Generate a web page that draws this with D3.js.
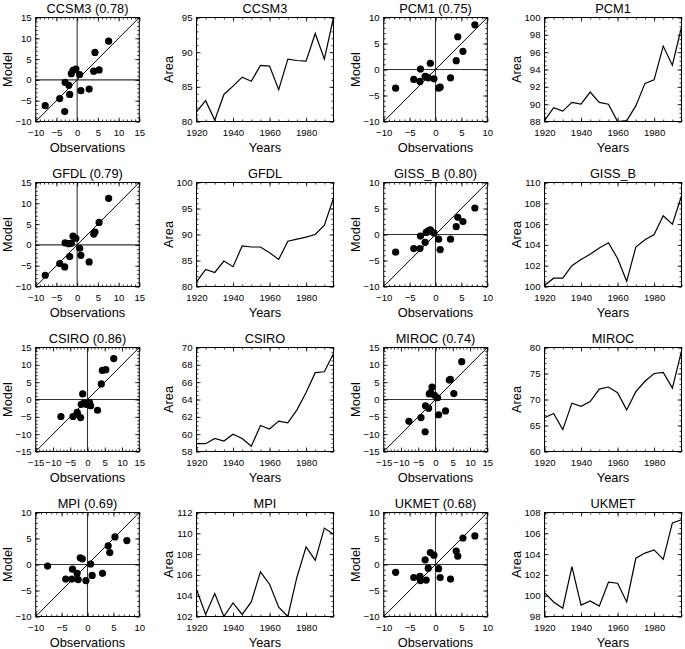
<!DOCTYPE html>
<html><head><meta charset="utf-8">
<script src="https://cdn.jsdelivr.net/npm/d3@7"></script>
<style>
body{margin:0;background:#fff;}
text{font-family:"Liberation Sans",Arial,Helvetica,sans-serif;fill:#000;}
</style>
</head><body>
<svg id="chart" width="685" height="649"></svg>
<script>
// ---------- DATA ----------
const modelNames   = ["CCSM3","PCM1","GFDL","GISS_B","CSIRO","MIROC","MPI","UKMET"];
const correlations = ["0.78","0.75","0.79","0.80","0.86","0.74","0.69","0.68"];

// observed anomalies (x of every scatter panel)
const observations = [-7.7,-4.2,-3.0,-2.9,-2.0,-1.8,-1.4,-1.0,-0.3,0.6,0.9,2.9,4.0,4.3,5.3,7.6];

// modelled anomalies (y of each scatter panel)
const ccsm3Model = [-6.2,-4.5,-7.6,-0.6,-1.3,-3.5,1.5,2.3,2.6,1.3,-2.6,-2.2,2.1,6.6,2.4,9.3];
const pcm1Model  = [-3.6,-1.9,-2.3,0.1,-1.3,-1.4,-1.6,1.2,-1.8,-3.6,-3.4,-1.6,1.7,6.3,3.5,8.6];
const gfdlModel  = [-7.3,-4.5,-5.3,0.5,0.3,-2.8,0.4,2.1,1.6,-0.8,-2.5,-4.1,2.6,3.1,5.4,11.2];
const gissModel  = [-3.4,-2.7,-2.7,-0.3,-1.5,0.4,0.7,0.9,0.3,-0.9,-2.9,-0.9,1.5,3.3,2.5,5.1];
const csiroModel = [-4.9,-4.9,-3.7,-4.3,-5.2,-1.4,1.6,-1.0,-1.4,-0.9,-1.8,-3.1,4.5,8.4,8.6,11.8];
const mirocModel = [-6.3,-5.2,-9.3,-1.8,-2.5,1.6,2.0,3.6,1.2,0.5,-4.4,-3.3,5.6,5.8,1.7,10.9];
const mpiModel   = [-0.3,-2.8,-2.8,-0.9,-1.7,-2.9,1.3,1.1,-3.1,0.1,-2.1,-1.7,3.6,2.3,5.3,4.6];
const ukmetModel = [-1.5,-2.5,-2.3,-3.1,0.9,-3.0,-0.7,2.3,1.8,-0.8,-2.5,-2.8,2.6,1.6,5.1,5.5];

// time series of area
const years = [1920,1925,1930,1935,1940,1945,1950,1955,1960,1965,1970,1975,1980,1985,1990,1995];
const ccsm3Area = [81.4,83.0,80.2,83.9,85.1,86.4,85.8,88.1,88.0,84.6,89.0,88.8,88.7,92.7,89.0,95.0];
const pcm1Area  = [88.1,89.6,89.2,90.2,90.0,91.4,90.2,90.0,88.0,88.1,89.8,92.4,92.8,96.7,94.5,98.9];
const gfdlArea  = [80.9,83.3,82.7,84.9,83.8,87.8,87.6,87.6,86.5,85.2,88.7,89.1,89.5,90.0,91.8,97.0];
const gissArea  = [100.1,100.8,100.8,102.0,102.6,103.1,103.7,104.2,102.7,100.5,103.8,104.5,105.0,106.8,106.0,108.7];
const csiroArea = [58.9,58.9,59.5,59.2,60.0,59.5,58.6,61.0,60.6,61.5,61.3,62.8,64.8,67.1,67.2,69.3];
const mirocArea = [66.5,67.3,64.2,69.3,68.7,69.6,72.0,72.4,71.3,68.0,71.5,73.5,75.0,75.2,72.2,79.3];
const mpiArea   = [104.6,102.2,104.2,102.0,103.3,102.2,103.4,106.3,105.1,102.9,102.0,105.8,108.7,107.4,110.5,109.9];
const ukmetArea = [100.3,99.4,98.8,102.8,99.1,99.5,99.0,101.3,101.2,99.4,103.6,104.1,104.4,103.5,107.0,107.3];

// tick labels
const yearTicks = [1920,1940,1960,1980];
const ticksM10to15 = [-10,-5,0,5,10,15];
const ticksM10to10 = [-10,-5,0,5,10];
const ticksM15to15 = [-15,-10,-5,0,5,10,15];
const ccsm3AreaTicks = [80,85,90,95];
const pcm1AreaTicks  = [88,90,92,94,96,98,100];
const gfdlAreaTicks  = [80,85,90,95,100];
const gissAreaTicks  = [100,102,104,106,108,110];
const csiroAreaTicks = [58,60,62,64,66,68,70];
const mirocAreaTicks = [60,65,70,75,80];
const mpiAreaTicks   = [102,104,106,108,110,112];
const ukmetAreaTicks = [98,100,102,104,106,108];

// ---------- PANEL TABLE ----------
const modelSeries = [ccsm3Model,pcm1Model,gfdlModel,gissModel,csiroModel,mirocModel,mpiModel,ukmetModel];
const areaSeries  = [ccsm3Area,pcm1Area,gfdlArea,gissArea,csiroArea,mirocArea,mpiArea,ukmetArea];
const scatterTicks = [ticksM10to15,ticksM10to10,ticksM10to15,ticksM10to10,ticksM15to15,ticksM15to15,ticksM10to10,ticksM10to10];
const areaTicks = [ccsm3AreaTicks,pcm1AreaTicks,gfdlAreaTicks,gissAreaTicks,csiroAreaTicks,mirocAreaTicks,mpiAreaTicks,ukmetAreaTicks];

// ---------- LAYOUT ----------
const svg = d3.select("#chart");
const rowTops = [17.5, 182.5, 347.5, 512.5];
const scatterLeft = [35.7, 383.7];
const lineLeft = [196.5, 544.5];
const H = 104, SW = 103.6, LW = 137;
const TICK_FS = 9.6, LABEL_FS = 12.8;

function minorOf(ticks, n){
  const step = (ticks[1]-ticks[0])/n, out=[];
  const lo = ticks[0], hi = ticks[ticks.length-1];
  for (let v = lo; v <= hi + 1e-9; v += step) out.push(+v.toFixed(6));
  return out;
}
function nMinor(step){ return (step===5||step===1) ? 5 : 4; }

function frameAxes(g, xs, ys, xTicks, yTicks, xMinor, yMinor, x0, y0, w, h){
  const fmt = d3.format("d");
  g.append("g").attr("transform",`translate(0,${y0+h})`)
    .call(d3.axisBottom(xs).tickValues(xTicks).tickSizeInner(-4).tickSizeOuter(0).tickPadding(7.2).tickFormat(fmt));
  g.append("g").attr("transform",`translate(${x0},0)`)
    .call(d3.axisLeft(ys).tickValues(yTicks).tickSizeInner(-4).tickSizeOuter(0).tickPadding(4).tickFormat(fmt));
  g.append("g").attr("transform",`translate(0,${y0})`)
    .call(d3.axisTop(xs).tickValues(xTicks).tickSizeInner(-4).tickSizeOuter(0).tickFormat(""));
  g.append("g").attr("transform",`translate(${x0+w},0)`)
    .call(d3.axisRight(ys).tickValues(yTicks).tickSizeInner(-4).tickSizeOuter(0).tickFormat(""));
  g.append("g").attr("transform",`translate(0,${y0+h})`).call(d3.axisBottom(xs).tickValues(xMinor).tickSizeInner(-2).tickSizeOuter(0).tickFormat(""));
  g.append("g").attr("transform",`translate(0,${y0})`).call(d3.axisTop(xs).tickValues(xMinor).tickSizeInner(-2).tickSizeOuter(0).tickFormat(""));
  g.append("g").attr("transform",`translate(${x0},0)`).call(d3.axisLeft(ys).tickValues(yMinor).tickSizeInner(-2).tickSizeOuter(0).tickFormat(""));
  g.append("g").attr("transform",`translate(${x0+w},0)`).call(d3.axisRight(ys).tickValues(yMinor).tickSizeInner(-2).tickSizeOuter(0).tickFormat(""));
  g.selectAll(".domain").remove();
  g.selectAll(".tick line").attr("stroke","#000").attr("stroke-width",0.8);
  g.selectAll(".tick text").style("font-size",TICK_FS+"px").style("font-family",'"Liberation Sans",Arial,sans-serif').attr("fill","#000");
  g.append("rect").attr("x",x0).attr("y",y0).attr("width",w).attr("height",h)
    .attr("fill","none").attr("stroke","#000").attr("stroke-width",1);
}

function labels(g, x0, y0, w, h, title, xLab, yLab){
  g.append("text").attr("x",x0+w/2).attr("y",y0-4.5).attr("text-anchor","middle")
    .style("font-size",LABEL_FS+"px").text(title);
  g.append("text").attr("x",x0+w/2).attr("y",y0+h+30).attr("text-anchor","middle")
    .style("font-size",LABEL_FS+"px").text(xLab);
  g.append("text").attr("transform",`translate(${x0-24},${y0+h/2}) rotate(-90)`).attr("text-anchor","middle")
    .style("font-size",LABEL_FS+"px").text(yLab);
}

modelNames.forEach((name,i)=>{
  const row = Math.floor(i/2), half = i%2;
  const y0 = rowTops[row];

  // --- scatter ---
  {
    const x0 = scatterLeft[half];
    const t = scatterTicks[i];
    const dom = [t[0], t[t.length-1]];
    const xs = d3.scaleLinear().domain(dom).range([x0, x0+SW]);
    const ys = d3.scaleLinear().domain(dom).range([y0+H, y0]);
    const g = svg.append("g");
    const minor = minorOf(t, nMinor(t[1]-t[0]));
    g.append("line").attr("x1",xs(dom[0])).attr("x2",xs(dom[1])).attr("y1",ys(0)).attr("y2",ys(0))
      .attr("stroke","#333").attr("stroke-width",1.1);
    g.append("line").attr("x1",xs(0)).attr("x2",xs(0)).attr("y1",ys(dom[0])).attr("y2",ys(dom[1]))
      .attr("stroke","#333").attr("stroke-width",1.1);
    g.append("line").attr("x1",xs(dom[0])).attr("y1",ys(dom[0])).attr("x2",xs(dom[1])).attr("y2",ys(dom[1]))
      .attr("stroke","#000").attr("stroke-width",1);
    frameAxes(g, xs, ys, t, t, minor, minor, x0, y0, SW, H);
    g.selectAll("circle.pt").data(observations.map((o,k)=>[o, modelSeries[i][k]]))
      .enter().append("circle").attr("class","pt")
      .attr("cx",d=>xs(d[0])).attr("cy",d=>ys(d[1])).attr("r",3.6).attr("fill","#000");
    labels(g, x0, y0, SW, H, `${name} (${correlations[i]})`, "Observations", "Model");
  }

  // --- time series ---
  {
    const x0 = lineLeft[half];
    const t = areaTicks[i];
    const xs = d3.scaleLinear().domain([years[0], years[years.length-1]]).range([x0, x0+LW]);
    const ys = d3.scaleLinear().domain([t[0], t[t.length-1]]).range([y0+H, y0]);
    const g = svg.append("g");
    const xMinor = minorOf([1920,1940,1960,1980,2000], 4).filter(v=>v<=years[years.length-1]);
    const yMinor = minorOf(t, nMinor(t[1]-t[0]));
    frameAxes(g, xs, ys, yearTicks, t, xMinor, yMinor, x0, y0, LW, H);
    g.append("path").datum(areaSeries[i].map((v,k)=>[years[k], v]))
      .attr("d", d3.line().x(d=>xs(d[0])).y(d=>ys(d[1])))
      .attr("fill","none").attr("stroke","#000").attr("stroke-width",1.2).attr("stroke-linejoin","miter");
    labels(g, x0, y0, LW, H, name, "Years", "Area");
  }
});
</script>
</body></html>
